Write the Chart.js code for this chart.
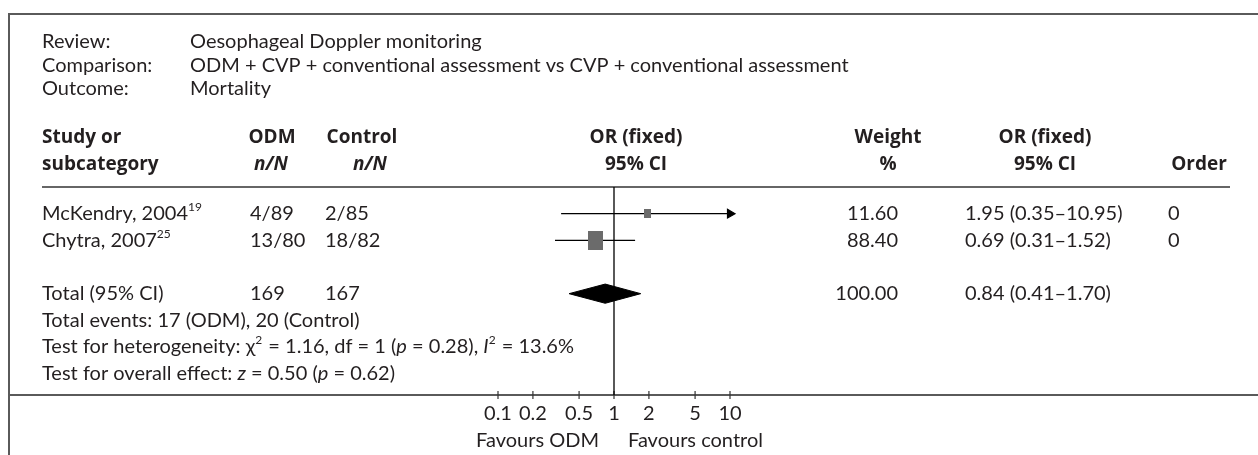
<!DOCTYPE html>
<html>
<head>
<meta charset="utf-8">
<script src="https://cdn.jsdelivr.net/npm/chart.js@4.4.1/dist/chart.umd.min.js"></script>
<style>
  html, body { margin: 0; padding: 0; background: #fff; }
  #wrap { width: 1258px; height: 455px; }
</style>
</head>
<body>
<div id="wrap"><canvas id="forest" width="1258" height="455"></canvas></div>
<script>
const studies = ["McKendry, 2004", "Chytra, 2007"];
const refs = ["19", "25"];
const odmCounts = ["4/89", "13/80"];
const ctrlCounts = ["2/85", "18/82"];
const orValues = [1.95, 0.69];
const ciLower = [0.35, 0.31];
const ciUpper = [10.95, 1.52];
const weights = [11.60, 88.40];
const orders = ["0", "0"];
const totalN = ["169", "167"];
const totalOr = [0.84, 0.41, 1.70];
const tickValues = [0.1, 0.2, 0.5, 1, 2, 5, 10];
const tickLabels = ["0.1", "0.2", "0.5", "1", "2", "5", "10"];

const FONT = "Lato, 'Open Sans', sans-serif";
const BOLD = "'Open Sans', Lato, sans-serif";
const INK = "#231f20";
const axisMax = 10;

// study rows are 1,2 ; total row 4 ; footnotes 5,6,7
const totalRow = 4;

function boxStyle(w) {
  const side = 2.5 + Math.sqrt(w) * 1.33;
  const c = document.createElement("canvas");
  c.width = Math.round(side);
  c.height = Math.round(side * 1.25);
  const g = c.getContext("2d");
  g.fillStyle = "#6b6b6b";
  g.fillRect(0, 0, c.width, c.height);
  return c;
}

const datasets = [];

// squares on top
datasets.push({
  type: "scatter",
  order: 0,
  data: orValues.map((v, i) => ({ x: v, y: i + 1 })),
  pointStyle: weights.map(boxStyle),
  pointRadius: 6
});

studies.forEach((s, i) => {
  const clipped = ciUpper[i] > axisMax;
  datasets.push({
    type: "scatter",
    order: 1,
    showLine: true,
    borderColor: "#000",
    borderWidth: 1.2,
    data: [{ x: ciLower[i], y: i + 1 }, { x: Math.min(ciUpper[i], axisMax), y: i + 1 }],
    pointRadius: [0, clipped ? 5 : 0],
    pointStyle: "triangle",
    rotation: 90,
    pointBackgroundColor: "#000",
    pointBorderColor: "#000"
  });
});

// pooled diamond
datasets.push({
  type: "scatter",
  order: 2,
  showLine: true,
  fill: "shape",
  backgroundColor: "#000",
  borderColor: "#000",
  borderWidth: 1,
  pointRadius: 0,
  data: [
    { x: totalOr[1], y: totalRow },
    { x: totalOr[0], y: totalRow - 0.36 },
    { x: totalOr[2], y: totalRow },
    { x: totalOr[0], y: totalRow + 0.36 },
    { x: totalOr[1], y: totalRow }
  ]
});

// line of no effect
datasets.push({
  type: "scatter",
  order: 3,
  showLine: true,
  borderColor: "#000",
  borderWidth: 1.3,
  pointRadius: 0,
  data: [{ x: 1, y: 0 }, { x: 1, y: 7.8 }]
});

function rich(ctx, parts, x, y, size) {
  let cx = x;
  parts.forEach(p => {
    const fs = p.sup ? Math.round(size * 0.6) : size;
    ctx.font = (p.italic ? "italic " : "") + fs + "px " + FONT;
    ctx.fillText(p.t, cx, p.sup ? y - size * 0.32 : y);
    cx += ctx.measureText(p.t).width + (p.sup ? 1 : 0);
  });
}

const tablePlugin = {
  id: "table",
  beforeDraw(chart) {
    const ctx = chart.ctx;
    const y = chart.scales.y;
    const x = chart.scales.x;
    const fs = 20;
    const bfs = 19;
    ctx.save();
    ctx.fillStyle = "#fff";
    ctx.fillRect(0, 0, chart.width, chart.height);

    // frame
    ctx.strokeStyle = "#5a5a5a";
    ctx.lineWidth = 2;
    ctx.beginPath();
    ctx.moveTo(9, 455); ctx.lineTo(9, 14); ctx.lineTo(1258, 14);
    const axisY = y.getPixelForValue(7.8);
    ctx.moveTo(9, axisY); ctx.lineTo(1258, axisY);
    ctx.stroke();

    // header rule
    const ruleY = y.getPixelForValue(0);
    ctx.strokeStyle = "#333";
    ctx.lineWidth = 1.5;
    ctx.beginPath();
    ctx.moveTo(42, ruleY); ctx.lineTo(1230, ruleY);
    ctx.stroke();

    ctx.fillStyle = INK;
    ctx.textBaseline = "middle";
    ctx.textAlign = "left";
    ctx.font = fs + "px " + FONT;
    const meta = [["Review:", "Oesophageal Doppler monitoring"],
      ["Comparison:", "ODM + CVP + conventional assessment vs CVP + conventional assessment"],
      ["Outcome:", "Mortality"]];
    meta.forEach((m, i) => {
      ctx.fillText(m[0], 42, 42 + i * 23.5);
      ctx.fillText(m[1], 190, 42 + i * 23.5);
    });

    // column headers
    const h1 = y.getPixelForValue(-1.85), h2 = y.getPixelForValue(-0.83);
    ctx.font = "bold " + bfs + "px " + BOLD;
    ctx.fillText("Study or", 42, h1);
    ctx.fillText("subcategory", 42, h2);
    ctx.textAlign = "center";
    ctx.fillText("ODM", 272, h1);
    ctx.fillText("Control", 362, h1);
    ctx.fillText("OR (fixed)", 636, h1);
    ctx.fillText("95% CI", 636, h2);
    ctx.fillText("Weight", 888, h1);
    ctx.fillText("%", 888, h2);
    ctx.fillText("OR (fixed)", 1045, h1);
    ctx.fillText("95% CI", 1045, h2);
    ctx.fillText("Order", 1199, h2);
    ctx.font = "italic bold " + bfs + "px " + BOLD;
    ctx.fillText("n/N", 271, h2);
    ctx.fillText("n/N", 370, h2);

    // study rows
    ctx.textAlign = "left";
    studies.forEach((s, i) => {
      const ry = y.getPixelForValue(i + 1);
      rich(ctx, [{ t: s }, { t: refs[i], sup: true }], 42, ry, fs);
      ctx.font = fs + "px " + FONT;
      ctx.fillText(odmCounts[i], 250, ry);
      ctx.fillText(ctrlCounts[i], 325, ry);
      ctx.textAlign = "right";
      ctx.fillText(weights[i].toFixed(2), 898, ry);
      ctx.textAlign = "left";
      ctx.fillText(orValues[i].toFixed(2) + " (" + ciLower[i].toFixed(2) + "\u2013" + ciUpper[i].toFixed(2) + ")", 965, ry);
      ctx.fillText(orders[i], 1168, ry);
    });

    // total row
    const ty = y.getPixelForValue(totalRow);
    ctx.font = fs + "px " + FONT;
    ctx.fillText("Total (95% CI)", 42, ty);
    ctx.fillText(totalN[0], 250, ty);
    ctx.fillText(totalN[1], 325, ty);
    ctx.textAlign = "right";
    ctx.fillText("100.00", 898, ty);
    ctx.textAlign = "left";
    ctx.fillText(totalOr[0].toFixed(2) + " (" + totalOr[1].toFixed(2) + "\u2013" + totalOr[2].toFixed(2) + ")", 965, ty);

    ctx.fillText("Total events: 17 (ODM), 20 (Control)", 42, y.getPixelForValue(5));
    rich(ctx, [{ t: "Test for heterogeneity: \u03c7" }, { t: "2", sup: true }, { t: " = 1.16, df = 1 (" },
      { t: "p", italic: true }, { t: " = 0.28), " }, { t: "I", italic: true }, { t: "2", sup: true }, { t: " = 13.6%" }],
      42, y.getPixelForValue(6), fs);
    rich(ctx, [{ t: "Test for overall effect: " }, { t: "z", italic: true }, { t: " = 0.50 (" },
      { t: "p", italic: true }, { t: " = 0.62)" }], 42, y.getPixelForValue(7), fs);

    // x axis ticks
    ctx.strokeStyle = "#333";
    ctx.lineWidth = 1.2;
    ctx.font = fs + "px " + FONT;
    ctx.textAlign = "center";
    tickValues.forEach((v, i) => {
      const px = x.getPixelForValue(v);
      ctx.beginPath();
      ctx.moveTo(px, axisY - 4); ctx.lineTo(px, axisY + 4);
      ctx.stroke();
      ctx.fillText(tickLabels[i], px, axisY + 19);
    });
    const one = x.getPixelForValue(1);
    ctx.textAlign = "right";
    ctx.fillText("Favours ODM", one - 15, axisY + 46);
    ctx.textAlign = "left";
    ctx.fillText("Favours control", one + 14, axisY + 46);
    ctx.restore();
  }
};

new Chart(document.getElementById("forest"), {
  type: "scatter",
  data: { datasets: datasets },
  options: {
    responsive: false,
    animation: false,
    layout: { padding: { left: 382, right: 412, top: 187, bottom: 60 } },
    scales: {
      x: { type: "logarithmic", min: 0.01, max: 100, display: false },
      y: { type: "linear", min: 0, max: 7.8, reverse: true, display: false }
    },
    plugins: { legend: { display: false }, tooltip: { enabled: false } }
  },
  plugins: [tablePlugin]
});
</script>
</body>
</html>
